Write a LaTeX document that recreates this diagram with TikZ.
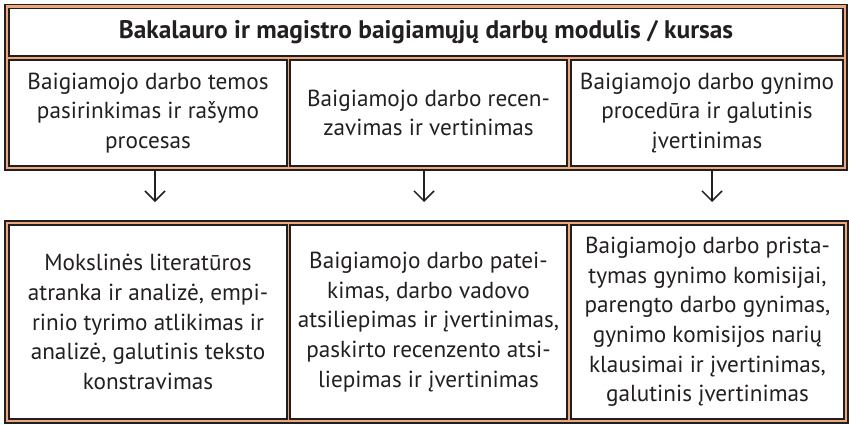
\documentclass[tikz,border=0pt]{standalone}
\usepackage{fontspec}
\setmainfont{PT Sans}
\usepackage{tikz}
\usetikzlibrary{arrows.meta,positioning}
\definecolor{framedark}{RGB}{35,31,32}
\definecolor{frameorange}{RGB}{238,168,128}

\begin{document}
\begin{tikzpicture}[x=0.5pt, y=-0.5pt,
    cell/.style={draw=framedark, line width=0.6pt, fill=white, inner sep=0pt, outer sep=0pt,
                 align=center, text=framedark, font=\fontsize{11.6}{14.8}\selectfont},
    frame/.style={draw=framedark, line width=0.6pt, fill=frameorange},
    flow/.style={-{Straight Barb[length=5pt, width=10pt, line width=0.75pt]}, line width=0.75pt, draw=framedark}]
    \useasboundingbox (0,0) rectangle (849,424);

    % outer frames
    \draw[frame] (5,4.5) rectangle (847,170);
    \draw[frame] (5,221) rectangle (848,423);

    % header and first row
    \node[cell, minimum width=417pt, minimum height=23.6pt, font=\bfseries\fontsize{12.7}{14}\selectfont] (head) at (426,32.3) {Bakalauro ir magistro baigiamųjų darbų modulis / kursas};
    \node[cell, minimum width=139pt, minimum height=53pt] (topic) at (148,113) {Baigiamojo darbo temos\\pasirinkimas ir rašymo\\procesas};
    \node[cell, minimum width=138.5pt, minimum height=53pt] (review) at (428.5,113) {Baigiamojo darbo recen-\\zavimas ir vertinimas};
    \node[cell, minimum width=136pt, minimum height=53pt] (defence) at (707,113) {Baigiamojo darbo gynimo\\procedūra ir galutinis\\įvertinimas};

    % second row
    \node[cell, minimum width=139pt, minimum height=97pt] (writing) at (148,322) {Mokslinės literatūros\\atranka ir analizė, empi-\\rinio tyrimo atlikimas ir\\analizė, galutinis teksto\\konstravimas};
    \node[cell, minimum width=138.5pt, minimum height=97pt] (submit) at (428.5,322) {Baigiamojo darbo patei-\\kimas, darbo vadovo\\atsiliepimas ir įvertinimas,\\paskirto recenzento atsi-\\liepimas ir įvertinimas};
    \node[cell, minimum width=136.5pt, minimum height=97pt] (present) at (707.5,322) {Baigiamojo darbo prista-\\tymas gynimo komisijai,\\parengto darbo gynimas,\\gynimo komisijos narių\\klausimai ir įvertinimas,\\galutinis įvertinimas};

    % arrows
    \coordinate (topicA) at (155,170);
    \coordinate (topicB) at (155,202);
    \coordinate (reviewA) at (424,170);
    \coordinate (reviewB) at (424,202);
    \coordinate (defenceA) at (712,170);
    \coordinate (defenceB) at (712,202);
    \draw[flow] (topicA) -- (topicB);
    \draw[flow] (reviewA) -- (reviewB);
    \draw[flow] (defenceA) -- (defenceB);
\end{tikzpicture}
\end{document}
